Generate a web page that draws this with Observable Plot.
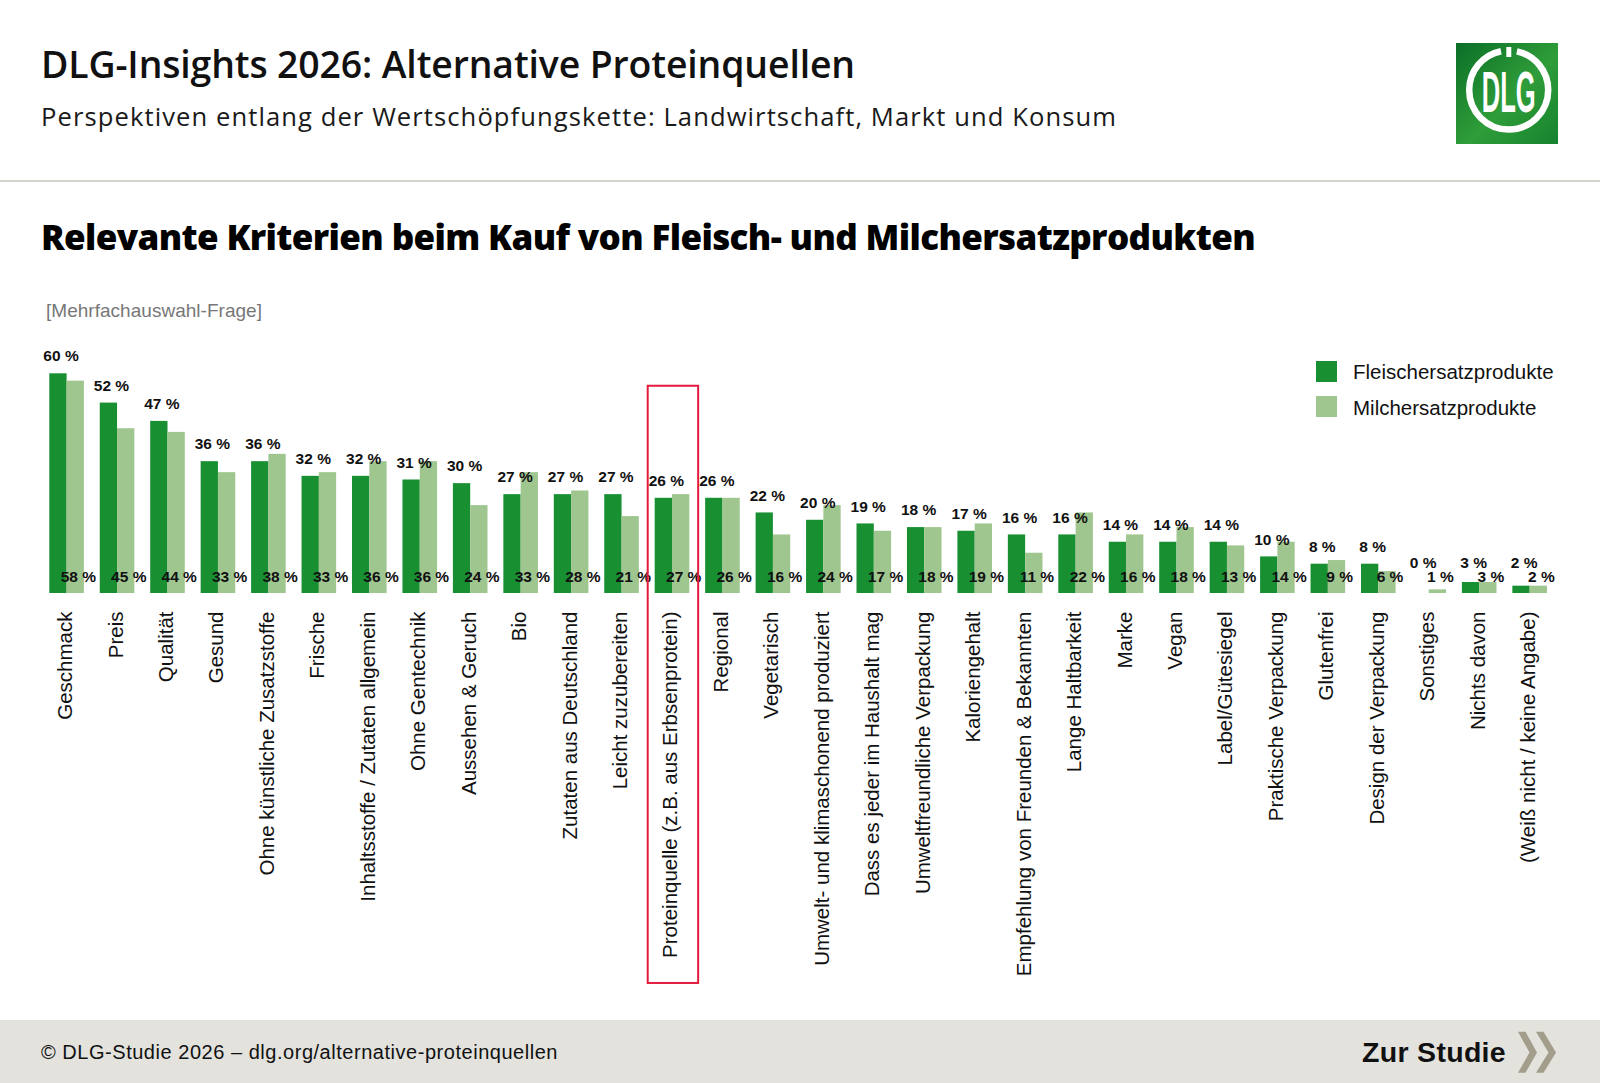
<!DOCTYPE html>
<html><head><meta charset="utf-8">
<script src="https://cdn.jsdelivr.net/npm/d3@7"></script>
<script src="https://cdn.jsdelivr.net/npm/@observablehq/plot@0.6"></script>
<style>
html,body{margin:0;padding:0;background:#fff;}
body{width:1600px;height:1083px;position:relative;overflow:hidden;font-family:"Liberation Sans",Arial,sans-serif;color:#111;}
.abs{position:absolute;white-space:nowrap;line-height:1;}
.fit{display:inline-block;}
#title{left:41px;top:45px;font-family:"Open Sans",sans-serif;font-weight:600;font-size:37.4px;color:#111;}
#subtitle{left:41px;top:104px;font-family:"Open Sans",sans-serif;font-weight:400;font-size:25.6px;color:#1a1a1a;}
#rule{left:0;top:180px;width:1600px;height:2px;background:#d4d2ca;}
#ctitle{left:41px;top:219px;font-family:"Open Sans",sans-serif;font-weight:800;font-size:35px;color:#000;}
#note{left:46px;top:301px;font-size:19px;color:#777;}
#chart{left:0;top:330px;}
.leg{left:1316px;width:21px;height:21px;}
.legt{left:1353px;font-size:20.5px;color:#111;}
#footer{left:0;top:1020px;width:1600px;height:63px;background:#e3e2dd;}
#fleft{left:41px;top:1041.5px;font-size:20px;color:#111;}
#fright{left:1362px;top:1037.6px;font-size:28.5px;font-weight:bold;color:#111;}
</style></head>
<body>
<div class="abs" id="title"><span class="fit" data-w="814">DLG-Insights 2026: Alternative Proteinquellen</span></div>
<div class="abs" id="subtitle"><span class="fit" data-w="1076">Perspektiven entlang der Wertschöpfungskette: Landwirtschaft, Markt und Konsum</span></div>
<svg class="abs" style="left:1456px;top:43px" width="102" height="101" viewBox="0 0 102 101">
  <defs><linearGradient id="lg" x1="0" y1="0" x2="1" y2="1">
    <stop offset="0" stop-color="#0b6f27"/><stop offset="0.55" stop-color="#2f9d39"/><stop offset="1" stop-color="#17822f"/>
  </linearGradient></defs>
  <rect width="102" height="101" fill="url(#lg)"/>
  <circle cx="52.7" cy="47" r="39.5" fill="none" stroke="#fff" stroke-width="6.5" stroke-dasharray="178.1 16 54.1"/>
  <rect x="50.3" y="4" width="5" height="10" fill="#fff"/>
  <text transform="scale(0.441,1)" x="119.5" y="68.7" text-anchor="middle" font-family="Liberation Sans, Arial, sans-serif" font-weight="bold" font-size="58" fill="#fff">DLG</text>
</svg>
<div class="abs" id="rule"></div>
<div class="abs" id="ctitle"><span class="fit" data-w="1214">Relevante Kriterien beim Kauf von Fleisch- und Milchersatzprodukten</span></div>
<div class="abs" id="note"><span class="fit" data-w="216">[Mehrfachauswahl-Frage]</span></div>
<div class="abs" id="chart"></div>
<div class="abs leg" id="leg1" style="top:361px"></div>
<div class="abs legt" id="legt1" style="top:362px"></div>
<div class="abs leg" id="leg2" style="top:396px"></div>
<div class="abs legt" id="legt2" style="top:397.6px"></div>
<div class="abs" id="footer"></div>
<div class="abs" id="fleft"><span class="fit" data-w="517">© DLG-Studie 2026 – dlg.org/alternative-proteinquellen</span></div>
<div class="abs" id="fright"><span class="fit" data-w="144">Zur Studie</span></div>
<svg class="abs" style="left:1510px;top:1028px" width="56" height="50" viewBox="0 0 56 50">
  <polygon points="8,3.7 15.5,3.7 27,24.5 15.5,44.7 8,44.7 19.5,24.5" fill="#a29e8b"/>
  <polygon points="26,3.7 33.5,3.7 46,24.5 33.5,44.7 26,44.7 38.5,24.5" fill="#a29e8b"/>
</svg>
<script>
// ---- data ----
const categories = [
  "Geschmack", "Preis", "Qualität", "Gesund", "Ohne künstliche Zusatzstoffe", "Frische",
  "Inhaltsstoffe / Zutaten allgemein", "Ohne Gentechnik", "Aussehen & Geruch", "Bio",
  "Zutaten aus Deutschland", "Leicht zuzubereiten", "Proteinquelle (z.B. aus Erbsenprotein)",
  "Regional", "Vegetarisch", "Umwelt- und klimaschonend produziert", "Dass es jeder im Haushalt mag",
  "Umweltfreundliche Verpackung", "Kaloriengehalt", "Empfehlung von Freunden & Bekannten",
  "Lange Haltbarkeit", "Marke", "Vegan", "Label/Gütesiegel", "Praktische Verpackung",
  "Glutenfrei", "Design der Verpackung", "Sonstiges", "Nichts davon", "(Weiß nicht / keine Angabe)"
];
const fleisch = [60, 52, 47, 36, 36, 32, 32, 31, 30, 27, 27, 27, 26, 26, 22, 20, 19, 18, 17, 16, 16, 14, 14, 14, 10, 8, 8, 0, 3, 2];
const milch   = [58, 45, 44, 33, 38, 33, 36, 36, 24, 33, 28, 21, 27, 26, 16, 24, 17, 18, 19, 11, 22, 16, 18, 13, 14, 9, 6, 1, 3, 2];
const seriesNames = ["Fleischersatzprodukte", "Milchersatzprodukte"];
const highlighted = "Proteinquelle (z.B. aus Erbsenprotein)";

const DARK = "#188f31", LIGHT = "#a0c690", RED = "#e31b3e";

const data = categories.map((c, i) => ({cat: c, fl: fleisch[i], mi: milch[i]}));

// legend
document.getElementById("leg1").style.background = DARK;
document.getElementById("leg2").style.background = LIGHT;
document.getElementById("legt1").textContent = seriesNames[0];
document.getElementById("legt2").textContent = seriesNames[1];

const chart = Plot.plot({
  width: 1600,
  height: 670,
  marginTop: 0, marginBottom: 0, marginLeft: 0, marginRight: 0,
  style: {background: "transparent", color: "#111", fontFamily: "Liberation Sans, Arial, sans-serif", overflow: "visible"},
  x: {type: "band", domain: categories, range: [42.3, 1555.8], padding: 0, round: false, axis: null},
  y: {domain: [0, 60], range: [263, 43.3], axis: null},
  marks: [
    Plot.barY(data, {x: "cat", y: "fl", fill: DARK, insetLeft: 7, insetRight: 26.15}),
    Plot.barY(data, {x: "cat", y: "mi", fill: LIGHT, insetLeft: 24.3, insetRight: 8.85}),
    Plot.text(data, {x: "cat", y: d => Math.max(d.fl, 3.5), text: d => `${d.fl} %`, dx: -7, dy: -17.3, fontSize: 15.5, fontWeight: "bold"}),
    Plot.text(data, {x: "cat", y: () => 0, text: d => `${d.mi} %`, dx: 10.3, dy: -16.5, fontSize: 15.5, fontWeight: "bold"}),
    // category tick labels, rotated, hanging below the baseline
    Plot.text(categories, {x: d => d, y: () => 0, text: d => d, rotate: -90, textAnchor: "end", lineAnchor: "middle", dy: 18, dx: -2.5, fontSize: 20.5, fill: "#111"}),
    Plot.barY([highlighted], {x: d => d, y1: () => -106.5, y2: () => 56.6, fill: "none", stroke: RED, strokeWidth: 2})
  ]
});
document.getElementById("chart").appendChild(chart);

// fit header text widths via letter spacing
document.querySelectorAll(".fit").forEach(el => {
  el.style.letterSpacing = "0px";
  const w = el.getBoundingClientRect().width;
  const n = el.textContent.length;
  el.style.letterSpacing = ((+el.dataset.w - w) / n) + "px";
});
</script>
</body></html>
